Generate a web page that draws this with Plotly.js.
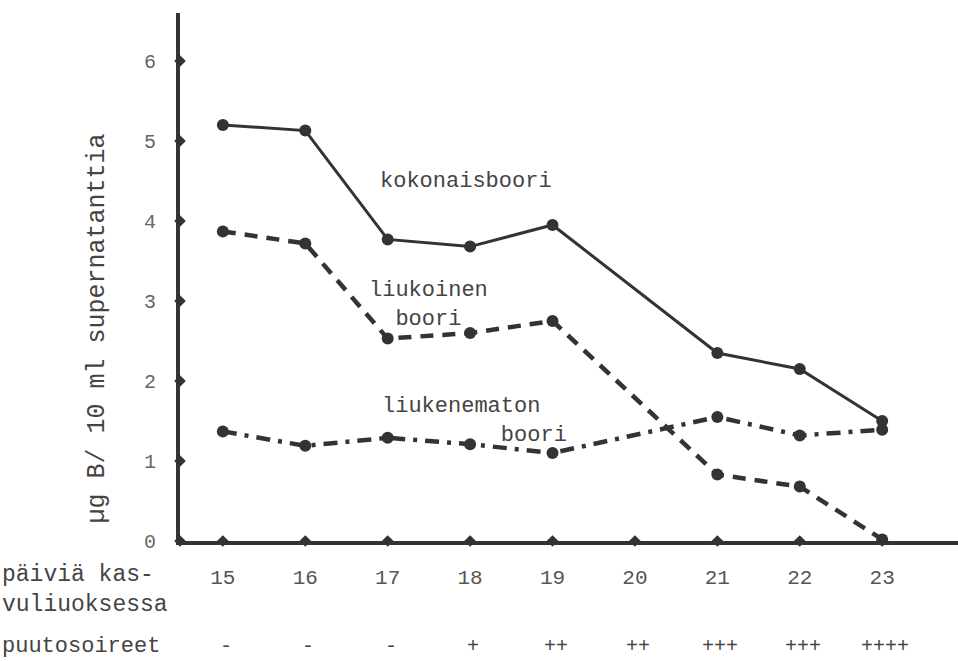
<!DOCTYPE html>
<html>
<head>
<meta charset="utf-8">
<script src="https://cdn.plot.ly/plotly-3.0.1.min.js"></script>
<style>html,body{margin:0;padding:0;background:#fff;}#chart{width:958px;height:661px;}</style>
</head>
<body>
<div id="chart"></div>
<script>
// Data
const days = [15, 16, 17, 18, 19, 20, 21, 22, 23];
const dayLabels = ["15", "16", "17", "18", "19", "20", "21", "22", "23"];
const symptoms = ["-", "-", "-", "+", "++", "++", "+++", "+++", "++++"];
const measuredDays = [15, 16, 17, 18, 19, 21, 22, 23];
const kokonaisboori = [5.2, 5.13, 3.77, 3.68, 3.95, 2.35, 2.15, 1.5];
const liukoinenBoori = [3.87, 3.72, 2.53, 2.6, 2.75, 0.83, 0.68, 0.02];
const liukenematonBoori = [1.37, 1.19, 1.29, 1.21, 1.1, 1.55, 1.32, 1.39];
const yTicks = [0, 1, 2, 3, 4, 5, 6];
const yTickLabels = ["0", "1", "2", "3", "4", "5", "6"];

const ink = '#333';
const textInk = '#444';
const mono = 'Liberation Mono, DejaVu Sans Mono, monospace';
const xMin = 14.48, xMax = 23.92;
const nb = '&nbsp;';

const traces = [
  {x: measuredDays, y: kokonaisboori, mode: 'lines+markers', name: 'kokonaisboori',
   line: {color: ink, width: 3}, marker: {color: ink, size: 12}, cliponaxis: false},
  {x: measuredDays, y: liukoinenBoori, mode: 'lines+markers', name: 'liukoinen boori',
   line: {color: ink, width: 4.5, dash: '13px,9px'}, marker: {color: ink, size: 12}, cliponaxis: false},
  {x: measuredDays, y: liukenematonBoori, mode: 'lines+markers', name: 'liukenematon boori',
   line: {color: ink, width: 4.5, dash: '14px,8px,4px,8px'}, marker: {color: ink, size: 12}, cliponaxis: false},
  {x: days, y: days.map(() => 0), mode: 'markers', hoverinfo: 'skip',
   marker: {symbol: 'diamond', color: ink, size: 9}, cliponaxis: false},
  {x: yTicks.map(() => xMin), y: yTicks, mode: 'markers', hoverinfo: 'skip',
   marker: {symbol: 'diamond', color: ink, size: 9}, cliponaxis: false}
];

const annotations = [
  {x: 17.95, y: 4.5, xref: 'x', yref: 'y', text: 'kokonaisboori', showarrow: false,
   font: {family: mono, size: 22, color: textInk}},
  {x: 17.5, y: 2.95, xref: 'x', yref: 'y', text: 'liukoinen<br>boori', align: 'center', showarrow: false,
   font: {family: mono, size: 22, color: textInk}},
  {x: 16.91, y: 1.5, xref: 'x', yref: 'y', xanchor: 'left',
   text: 'liukenematon<br>' + nb.repeat(9) + 'boori', align: 'left', showarrow: false,
   font: {family: mono, size: 22, color: textInk}},
  {x: 0, y: 2.65, xref: 'paper', yref: 'y', xshift: -100, text: 'µg B/ 10 ml supernatanttia',
   textangle: -90, showarrow: false, font: {family: mono, size: 25, color: textInk}},
  {x: 0, y: 0, xref: 'paper', yref: 'paper', xshift: -180, yshift: -49, xanchor: 'left', yanchor: 'middle',
   text: 'päiviä kas-<br>vuliuoksessa', align: 'left', showarrow: false,
   font: {family: mono, size: 23, color: textInk}},
  {x: 0, y: 0, xref: 'paper', yref: 'paper', xshift: -180, yshift: -105, xanchor: 'left', yanchor: 'middle',
   text: 'puutosoireet', showarrow: false, font: {family: mono, size: 22, color: textInk}}
];
days.forEach((d, i) => {
  annotations.push({x: d, y: 0, xref: 'x', yref: 'paper', yshift: -105, yanchor: 'middle', xshift: 3,
    text: symptoms[i], showarrow: false, font: {family: mono, size: 20, color: textInk}});
});

const layout = {
  width: 958, height: 661,
  margin: {l: 180, r: 0, t: 13, b: 120},
  paper_bgcolor: '#fff', plot_bgcolor: '#fff',
  showlegend: false,
  xaxis: {range: [xMin, xMax], tickvals: days, ticktext: dayLabels, showgrid: false, zeroline: false,
    showline: true, linecolor: ink, linewidth: 4, ticks: '', ticklabelstandoff: 14,
    tickfont: {family: mono, size: 21, color: '#555'}},
  yaxis: {range: [0, 6.6], tickvals: yTicks, ticktext: yTickLabels, showgrid: false, zeroline: false,
    showline: true, linecolor: ink, linewidth: 4, ticks: '', ticklabelstandoff: 16,
    tickfont: {family: mono, size: 20, color: '#666'}},
  annotations: annotations
};

Plotly.newPlot('chart', traces, layout, {displayModeBar: false, staticPlot: true});
</script>
</body>
</html>
